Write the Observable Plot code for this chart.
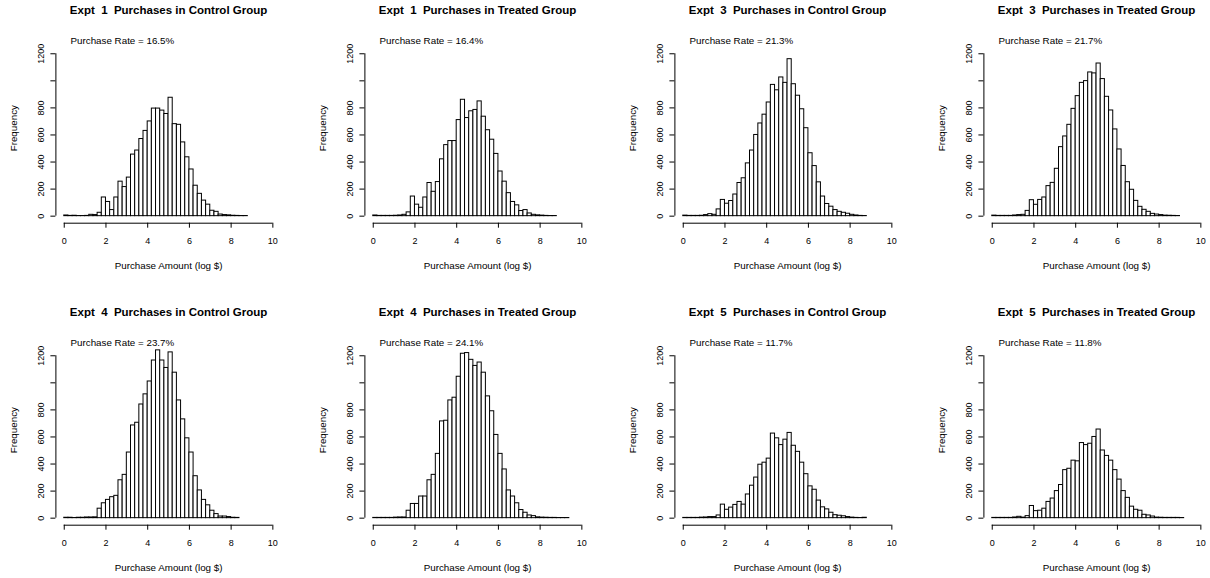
<!DOCTYPE html>
<html><head><meta charset="utf-8">
<script src="https://cdn.jsdelivr.net/npm/d3@7"></script>
<script src="https://cdn.jsdelivr.net/npm/@observablehq/plot@0.6"></script>
<style>
body{margin:0;background:#fff;}
#grid{position:relative;width:1210px;height:578px;overflow:hidden;background:#fff;}
#grid > svg{position:absolute;}
svg text{white-space:pre;}
</style></head><body><div id="grid"></div>
<script>
const titles = [
  "Expt  1  Purchases in Control Group", "Expt  1  Purchases in Treated Group",
  "Expt  3  Purchases in Control Group", "Expt  3  Purchases in Treated Group",
  "Expt  4  Purchases in Control Group", "Expt  4  Purchases in Treated Group",
  "Expt  5  Purchases in Control Group", "Expt  5  Purchases in Treated Group"
];
const rates = ["16.5%", "16.4%", "21.3%", "21.7%", "23.7%", "24.1%", "11.7%", "11.8%"];

const expt1Control = [5,2,3,1,1,2,10,8,25,138, 105,45,138,255,215,285,455,485,570,630, 700,795,795,780,755,875,680,675,545,435, 345,225,165,115,85,40,32,12,8,6, 3,2,1,1];
const expt1Treated = [5,2,2,2,2,3,5,10,28,145, 85,62,138,245,180,252,420,525,555,555, 710,860,725,775,785,848,735,635,565,460, 330,255,170,105,80,38,45,20,10,6, 4,2,1,1];
const expt3Control = [4,2,2,2,3,8,15,10,50,120, 92,112,160,245,280,390,485,600,685,750, 840,970,930,1025,985,1160,975,890,790,650, 465,370,250,145,90,70,45,32,25,18, 10,5,2,1];
const expt3Treated = [4,2,2,2,2,5,8,10,39,118, 84,120,138,222,246,350,510,589,675,793, 887,985,998,1062,1055,1128,1013,882,781,641, 493,371,251,195,113,69,47,32,17,12, 8,4,3,2,1];
const expt4Control = [3,3,1,3,3,5,5,6,70,110, 135,155,165,280,320,485,685,705,840,915, 1010,1165,1240,1165,1110,1225,1075,870,730,590, 485,310,205,135,95,55,30,12,12,8, 3,2];
const expt4Treated = [2,2,2,2,2,4,5,5,55,105, 105,160,160,280,320,475,715,720,870,890, 1045,1215,1220,1170,1125,1150,1075,900,790,615, 475,360,205,160,110,60,40,20,15,6, 4,3,2,2,1,1,1];
const expt5Control = [2,2,2,2,4,5,8,8,20,100, 62,78,98,120,100,175,240,300,395,410, 440,625,590,540,580,630,535,490,410,325, 235,210,130,80,65,40,22,18,14,8, 4,2,1,3];
const expt5Treated = [2,2,2,2,2,5,10,4,15,90, 52,55,70,120,145,200,245,355,365,425, 420,555,540,550,600,655,500,460,425,355, 285,200,150,85,62,55,25,20,12,4, 3,2,2,2,2,1];
const panelCounts = [expt1Control, expt1Treated, expt3Control, expt3Treated, expt4Control, expt4Treated, expt5Control, expt5Treated];

const binStart = 0;
const binWidth = 0.2;
const xTicks = [0, 2, 4, 6, 8, 10];
const yTicks = [0, 200, 400, 600, 800, 1000, 1200];
const yTickLabels = ["0", "200", "400", "600", "800", "", "1200"];
const yLimits = [0, 1300];
const xLabel = "Purchase Amount (log $)";
const yLabel = "Frequency";
const rateLabel = "Purchase Rate = ";

const colPitch = 309.3, rowPitch = 302;
const grid = document.getElementById("grid");
const font = "'Liberation Sans', Arial, Helvetica, sans-serif";

panelCounts.forEach((counts, i) => {
  const bins = counts.map((c, j) => ({x1: binStart + j * binWidth, x2: binStart + (j + 1) * binWidth, count: c}));
  const xPad = 0.04 * (xTicks[xTicks.length - 1] - xTicks[0]);
  const yPad = 0.04 * (yLimits[1] - yLimits[0]);
  const xMin = xTicks[0] - xPad, xMax = xTicks[xTicks.length - 1] + xPad;
  const yMin = yLimits[0] - yPad, yMax = yLimits[1] + yPad;
  const svg = Plot.plot({
    width: 309, height: 302,
    marginLeft: 55.4, marginRight: 28.3, marginTop: 32.7, marginBottom: 79.3,
    x: {domain: [xMin, xMax], axis: null},
    y: {domain: [yMin, yMax], axis: null},
    style: {fontFamily: font, fontSize: "9px", color: "black", background: "white", overflow: "visible"},
    marks: [
      Plot.rect(bins, {x1: "x1", x2: "x2", y1: 0, y2: "count", fill: "white", stroke: "black", strokeWidth: 1, inset: 0}),
      Plot.ruleX([xMin], {y1: yTicks[0], y2: yTicks[yTicks.length - 1], stroke: "black"}),
      Plot.ruleY([yMin], {x1: xTicks[0], x2: xTicks[xTicks.length - 1], stroke: "black"}),
      Plot.axisX({ticks: xTicks, tickSize: 5, tickPadding: 9.5, fontSize: 9, label: null, tickFormat: d => String(d)}),
      Plot.axisY({ticks: yTicks, tickSize: 5, tickPadding: 7, tickRotate: -90, fontSize: 9, label: null,
                  tickFormat: d => yTickLabels[yTicks.indexOf(d)]}),
      Plot.text([titles[i]], {frameAnchor: "top", dy: -23.1, textAnchor: "middle", lineAnchor: "middle", fontWeight: "bold", fontSize: 11.5}),
      Plot.text([rateLabel + rates[i]], {frameAnchor: "top-left", dx: 14.6, dy: 7.9, textAnchor: "start", lineAnchor: "middle", fontSize: 9.8}),
      Plot.text([xLabel], {frameAnchor: "bottom", dy: 42.9, textAnchor: "middle", lineAnchor: "middle", fontSize: 9.8}),
      Plot.text([yLabel], {frameAnchor: "left", dx: -42.2, rotate: -90, textAnchor: "middle", lineAnchor: "middle", fontSize: 9.8})
    ]
  });
  svg.style.left = (i % 4) * colPitch + "px";
  svg.style.top = Math.floor(i / 4) * rowPitch + "px";
  grid.appendChild(svg);
});
</script></body></html>
